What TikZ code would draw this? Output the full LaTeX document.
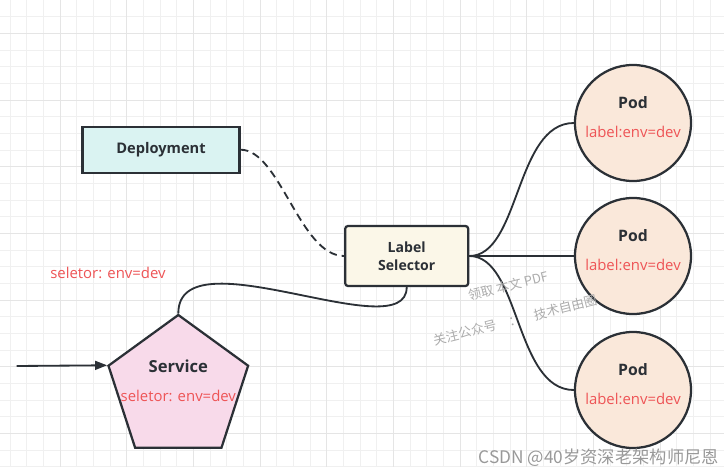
\documentclass[tikz,border=0pt]{standalone}
\usepackage{fontspec}
\setmainfont{Open Sans}
\newfontfamily\cjk{Noto Sans CJK SC}
\usetikzlibrary{arrows.meta,shapes.geometric}
\definecolor{ink}{HTML}{2B3036}
\definecolor{depfill}{HTML}{DAF3F2}
\definecolor{selfill}{HTML}{FBF7E8}
\definecolor{podfill}{HTML}{FAE8DA}
\definecolor{svcfill}{HTML}{F8DAEA}
\definecolor{tagred}{HTML}{EE5456}
\tikzset{
  box/.style={rectangle, draw=ink, line width=1.6pt, inner sep=0pt},
  dep/.style={box, fill=depfill, minimum width=3.925cm, minimum height=1.15cm},
  sel/.style={box, fill=selfill, rounded corners=2pt, minimum width=3.075cm, minimum height=1.5cm, align=center},
  pod/.style={circle, draw=ink, line width=1.6pt, fill=podfill, minimum size=2.9cm, inner sep=0pt},
  svc/.style={regular polygon, regular polygon sides=5, draw=ink, line width=1.6pt, fill=svcfill, minimum size=3.67cm, inner sep=0pt},
  title/.style={font=\bfseries\fontsize{10.4}{12}\selectfont, text=ink},
  tag/.style={font=\fontsize{10.6}{12}\selectfont, text=tagred},
  link/.style={draw=ink, line width=1.3pt},
  wm/.style={font=\cjk\fontsize{9.2}{11}\selectfont, text=gray!65},
  gridminor/.style={draw=gray!12, line width=0.5pt},
  gridmajor/.style={draw=gray!20, line width=0.6pt}
}

\begin{document}
\begin{tikzpicture}[x=0.025cm, y=-0.025cm]
  \fill[white] (0,0) rectangle (724,467);
  \useasboundingbox (0,0) rectangle (724,467);

  % background grid
  \foreach \i in {0,...,42} \draw[gridminor] ({10+\i*16.667},0) -- ++(0,467);
  \foreach \j in {1,...,28} \draw[gridminor] (0,{\j*16.667}) -- ++(724,0);
  \foreach \i in {0,...,9} \draw[gridmajor] ({60+\i*66.667},0) -- ++(0,467);
  \foreach \j in {0,...,6} \draw[gridmajor] (0,{33.333+\j*66.667}) -- ++(724,0);

  % main blocks
  \node[dep, title] (dep) at (161,149.7) {Deployment};
  \node[sel, font=\bfseries\fontsize{10}{13}\selectfont, text=ink] (sel) at (406.7,256) {Label\\Selector};

  % the three pods
  \foreach \n/\y in {1/123,2/256,3/390} {
    \node[pod] (p\n) at (633,\y) {};
    \node[title, font=\bfseries\fontsize{11.2}{13}\selectfont] (p\n t) at (633,{\y-20}) {Pod};
    \node[tag] (p\n l) at (633,{\y+9}) {label:env=dev};
  }

  % service
  \node[svc] (svc) at (178.3,388.4) {};
  \node[title, font=\bfseries\fontsize{11.8}{14}\selectfont] (svct) at (178.3,366.7) {Service};
  \node[tag] (svcl) at (178.3,395.7) {seletor: env=dev};
  \node[tag] (note) at (108,273) {seletor: env=dev};
  \coordinate (in) at (16.7,366);

  % connectors
  \draw[link, dash pattern=on 5.5pt off 3.5pt] (dep.east) .. controls (280,150) and (300,256) .. (sel.west);
  \draw[link] (svc.corner 1) .. controls (178,232) and (406.7,350) .. (sel.south);
  \draw[link] (sel.east) .. controls (520,256) and (515,123) .. (p1.west);
  \draw[link] (sel.east) -- (p2.west);
  \draw[link] (sel.east) .. controls (520,256) and (515,390) .. (p3.west);
  \draw[link, -{Triangle[length=3mm, width=2.2mm]}] (in) -- (svc.corner 2);

  % watermarks
  \node[wm, rotate=14] (wm1) at (508,286) {领取\ 本文\ PDF};
  \node[wm, rotate=14] (wm2) at (515,320) {关注公众号\quad：\quad 技术自由圈};
  \node[wm, font=\cjk\fontsize{12.3}{14}\selectfont, text=gray!80, anchor=east] (csdn) at (724,458) {CSDN @40岁资深老架构师尼恩};
\end{tikzpicture}
\end{document}
